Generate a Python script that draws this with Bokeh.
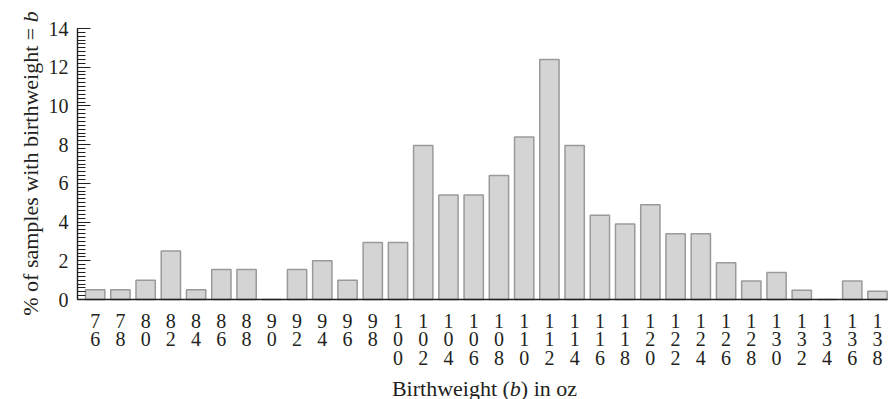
import math
from bokeh.plotting import figure
from bokeh.models import Range1d, FixedTicker, Label
from bokeh.embed import file_html
from bokeh.resources import INLINE

# Data
weights = [76, 78, 80, 82, 84, 86, 88, 90, 92, 94, 96, 98, 100, 102, 104, 106,
           108, 110, 112, 114, 116, 118, 120, 122, 124, 126, 128, 130, 132, 134, 136, 138]
percents = [0.5, 0.5, 1.0, 2.5, 0.5, 1.55, 1.55, 0.0, 1.55, 2.0, 1.0, 2.95, 2.95, 7.95,
            5.4, 5.4, 6.4, 8.4, 12.4, 7.95, 4.35, 3.9, 4.9, 3.4, 3.4, 1.9, 0.95, 1.4,
            0.48, 0.0, 0.95, 0.43]
y_ticks = [0, 2, 4, 6, 8, 10, 12, 14]
x_tick_labels = {w: "\n".join(str(w)) for w in weights}

FONT = "Liberation Serif"
INK = "#231f20"

W, H = 893, 399
# frame fills the whole canvas; axes are pinned inside it
X_LO, X_HI = 74.6, 138.77          # visible axis extent (oz)
Y_LO, Y_HI = 0, 14
AX_L, AX_R, AX_T, AX_B = 77, 886.7, 28, 299   # pixel extent of the axes
px_per_x = (AX_R - AX_L) / (X_HI - X_LO)
px_per_y = (AX_B - AX_T) / (Y_HI - Y_LO)
x_start = X_LO - AX_L / px_per_x
x_end = X_HI + (W - AX_R) / px_per_x
y_end = Y_HI + AX_T / px_per_y
y_start = Y_LO - (H - AX_B) / px_per_y

p = figure(width=W, height=H, output_backend="svg", toolbar_location=None,
           x_range=Range1d(x_start, x_end), y_range=Range1d(y_start, y_end),
           min_border_left=0, min_border_right=0, min_border_top=0, min_border_bottom=0)
p.outline_line_color = None
p.xgrid.visible = False
p.ygrid.visible = False

p.vbar(x=weights, top=percents, width=1.53, fill_color="#d4d4d4",
       line_color="#9a9a9a", line_width=1.5)

# x axis
xa = p.xaxis[0]
xa.fixed_location = Y_LO
xa.bounds = (X_LO, X_HI)
xa.ticker = FixedTicker(ticks=weights)
xa.major_label_overrides = x_tick_labels
xa.major_tick_in = 0
xa.major_tick_out = 0
xa.minor_tick_in = 0
xa.minor_tick_out = 0
xa.axis_line_color = INK
xa.axis_line_width = 1.4
xa.major_label_text_font = FONT
xa.major_label_text_font_size = "20px"
xa.major_label_text_color = INK
xa.major_label_text_line_height = 0.85
xa.major_label_standoff = 10

# y axis
ya = p.yaxis[0]
ya.fixed_location = X_LO
ya.bounds = (Y_LO, Y_HI)
ya.ticker = FixedTicker(ticks=y_ticks, minor_ticks=[i * 0.2 for i in range(71)])
ya.major_tick_in = 13
ya.major_tick_out = 0
ya.minor_tick_in = 8
ya.minor_tick_out = 0
ya.major_tick_line_color = INK
ya.minor_tick_line_color = INK
ya.major_tick_line_width = 1.2
ya.minor_tick_line_width = 1.0
ya.axis_line_color = INK
ya.axis_line_width = 1.4
ya.major_label_text_font = FONT
ya.major_label_text_font_size = "20px"
ya.major_label_text_color = INK
ya.major_label_standoff = 9

# Axis titles (with italic b), placed in canvas pixels (y from top)
TS = 22
def lbl(text, x, y, style="normal", angle=0.0, align="left"):
    p.add_layout(Label(text=text, x=x, y=y, x_units="canvas", y_units="canvas",
                       text_font=FONT, text_font_size=f"{TS}px", text_font_style=style,
                       text_color=INK, angle=angle, text_align=align,
                       text_baseline="alphabetic"))

em = TS / 1000.0
w1 = 5361 * em
wb = 500 * em
x0 = 484 - (5361 + 500 + 2555) * em / 2
yb = 388
lbl("Birthweight (", x0, yb)
lbl("b", x0 + w1, yb, style="italic")
lbl(") in oz", x0 + w1 + wb, yb)

wy = 13341 * em
yc = 163 + (13341 + 500) * em / 2
lbl("% of samples with birthweight = ", 30, yc, angle=math.pi / 2)
lbl("b", 30, yc - wy, style="italic", angle=math.pi / 2)

open("out.html", "w").write(file_html(p, INLINE))
